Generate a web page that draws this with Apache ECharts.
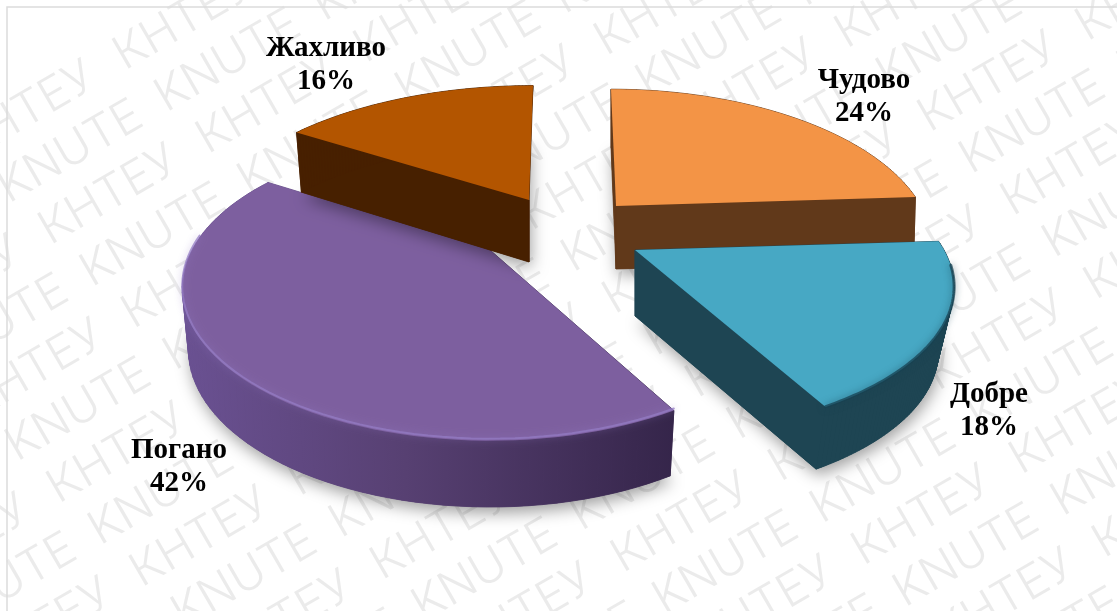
<!DOCTYPE html>
<html>
<head>
<meta charset="utf-8">
<style>html,body{margin:0;padding:0;background:#fff}#chart{width:1117px;height:611px}</style>
<script src="https://cdn.jsdelivr.net/npm/echarts@6/dist/echarts.min.js"></script>
</head>
<body>
<div id="chart"></div>
<script>
// Survey answers, in clockwise order from twelve o'clock
const categories = ['Чудово', 'Добре', 'Погано', 'Жахливо'];
const shares = [24, 18, 42, 16];

// Colours of each wedge: upper face, side wall
const topColors = ['#F39446', '#47A8C4', '#7D5F9F', '#B35500'];
const wallColors = ['#61391A', '#1E4553', '#523C70', '#472000'];

// Exploded placement of each wedge in the projected view
const placement = [
  { ax: 616, ay: 206, rx: 305, ry: 146, lean: 5, plumb: 0, taper: 0.006, wall: 63, grow: 0.3, lx: 864, ly: 97 },
  { ax: 635, ay: 250, rx: 309, ry: 140, lean: 0, plumb: 0, taper: 0.05, wall: 66, grow: -0.25, lx: 989, ly: 411 },
  { ax: 490, ay: 250, rx: 298, ry: 143, lean: 0, plumb: 0, taper: 0.02, wall: 60, grow: 0.35, lx: 179, ly: 467 },
  { ax: 529, ay: 200, rx: 315, ry: 143, lean: -4, plumb: 1, taper: 0.03, wall: 62, grow: 0.3, lx: 326, ly: 65 }
];
const PERSPECTIVE = 0.25;
const total = shares.reduce((a, b) => a + b, 0);

// Maps a polar position on a wedge to the screen, nearer points drawn larger
function project(p, r, theta) {
  const u = r * Math.sin(theta), v = r * Math.cos(theta);
  const s = 1 / (1 + PERSPECTIVE * v);
  return [p.ax + p.rx * u * s - p.lean * v, p.ay - p.ry * v * s, s, v];
}
// Lower corner of the wall under a point of the upper face
function drop(pt, p) {
  const x = pt[0] - (pt[0] - p.ax) * p.taper + p.plumb * p.lean * pt[3];
  return [x, pt[1] + p.wall * Math.pow(pt[2], p.grow)];
}

function renderWedge(params, api) {
  const i = params.dataIndex, p = placement[i];
  let before = 0;
  for (let k = 0; k < i; k++) before += shares[k];
  const a0 = before / total * 2 * Math.PI;
  const a1 = (before + api.value(0)) / total * 2 * Math.PI;
  const rim = [];
  const steps = 72;
  for (let k = 0; k <= steps; k++) rim.push(project(p, 1, a0 + (a1 - a0) * k / steps));
  const apex = project(p, 0, 0);
  const topFace = [apex].concat(rim).map(q => [q[0], q[1]]);
  const bottomFace = [apex].concat(rim).map(q => drop(q, p));
  const children = [];

  let wallFill = wallColors[i];
  if (i === 2) {
    wallFill = new echarts.graphic.LinearGradient(185, 0, 675, 0, [
      { offset: 0, color: '#6A5192' }, { offset: 0.45, color: '#574072' }, { offset: 1, color: '#35254A' }
    ], true);
  }
  // Extruded body: lower outline plus every side quad, with a soft drop shadow
  children.push({
    type: 'polygon', shape: { points: bottomFace },
    style: { fill: wallColors[i], shadowBlur: 16, shadowOffsetY: 6, shadowOffsetX: 2, shadowColor: 'rgba(0,0,0,0.38)' }
  });
  const outline = [apex].concat(rim);
  for (let k = 0; k < outline.length; k++) {
    const a = outline[k], b = outline[(k + 1) % outline.length];
    children.push({
      type: 'polygon',
      shape: { points: [[a[0], a[1]], [b[0], b[1]], drop(b, p), drop(a, p)] },
      style: { fill: wallFill, stroke: wallFill, lineWidth: 0.8 }
    });
  }
  children.push({ type: 'polygon', shape: { points: topFace }, style: { fill: topColors[i] } });

  // Soft bevel along the near part of the rounded edge of the two front wedges
  if (i === 1 || i === 2) {
    const near = rim.filter(q => q[3] < (i === 1 ? -0.1 : 0.12));
    const soft = i === 2 ? 'rgba(148,124,196,0.75)' : 'rgba(24,66,82,0.75)';
    children.push({
      type: 'polyline',
      shape: { points: near.map(q => [q[0], q[1] - (i === 2 ? 2 : 0.5)]) },
      style: { fill: 'none', lineWidth: i === 2 ? 2 : 3, stroke: soft, shadowBlur: 7, shadowColor: soft, lineCap: 'round' }
    });
  }
  // Category and share, stacked
  children.push({
    type: 'text', z2: 50,
    style: {
      x: p.lx, y: p.ly, text: categories[i] + '\n' + api.value(0) + '%',
      fill: '#000', align: 'center', verticalAlign: 'middle',
      font: 'bold 29px "Liberation Serif"', lineHeight: 33
    }
  });
  return { type: 'group', children };
}

// Diagonal repeating watermark drawn over the whole chart
const watermarkWords = ['КНТЕУ', 'KNUTE'];
function watermark() {
  const rows = [];
  const rowGap = 57, pitch = 182, rowShift = 15;
  for (let r = -14; r < 10; r++) {
    for (let c = -8; c < 8; c++) {
      rows.push({
        type: 'text',
        x: c * pitch + r * rowShift,
        y: r * rowGap,
        style: {
          text: watermarkWords[((r % 2) + 2) % 2],
          fill: 'rgba(70,70,70,0.105)', font: '300 47px Inter',
          align: 'left', verticalAlign: 'bottom'
        }
      });
    }
  }
  return {
    type: 'group', x: 868, y: 574, rotation: 30 * Math.PI / 180, z: 40, silent: true,
    children: rows
  };
}

const chart = echarts.init(document.getElementById('chart'));
chart.setOption({
  animation: false,
  backgroundColor: '#fff',
  graphic: [
    { type: 'rect', z: 39, silent: true, shape: { x: 7, y: 7, width: 1300, height: 800 }, style: { fill: 'none', stroke: '#dcdcdc', lineWidth: 1.5 } },
    watermark()
  ],
  series: [{
    type: 'custom',
    coordinateSystem: 'none',
    renderItem: renderWedge,
    data: shares.map(v => [v]),
    silent: true
  }]
});
</script>
</body>
</html>
